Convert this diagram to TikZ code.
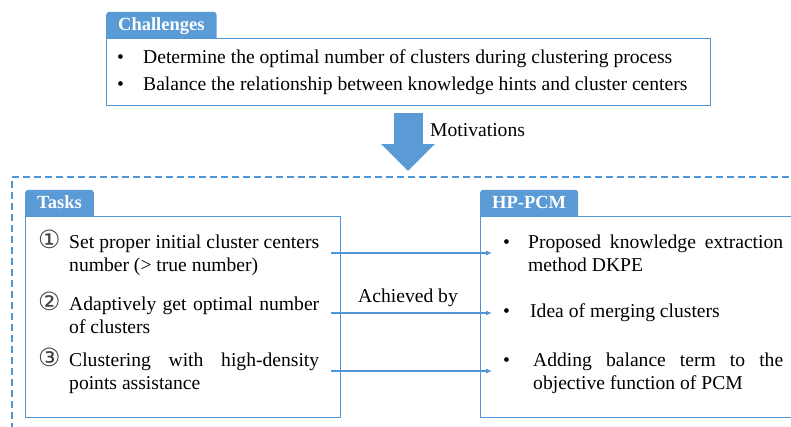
\documentclass[tikz,border=0pt]{standalone}
\usepackage{fontspec}
\setmainfont{Liberation Serif}
\newfontfamily\circfont{DejaVu Sans}
\usetikzlibrary{arrows.meta,positioning}
\definecolor{tabblue}{RGB}{91,155,213}
\definecolor{lineblue}{RGB}{80,150,212}

\newcommand{\numitem}[4]{\makebox[#1][l]{#2}\parbox[t]{#3}{#4}}
\newcommand{\circnum}[1]{{\circfont\fontsize{25}{23}\selectfont\color{black!75}#1}}

\begin{document}
\begin{tikzpicture}[
    x=1pt, y=-1pt,
    font=\fontsize{19.6}{23}\selectfont,
    tab/.style={fill=tabblue, text=white, rounded corners=3pt,
      font=\fontsize{18.5}{20}\selectfont\bfseries,
      anchor=south west, inner xsep=12pt, inner ysep=0pt,
      text height=14pt, text depth=5pt, minimum height=29pt},
    panel/.style={draw=lineblue, line width=1.4pt, fill=white,
      anchor=north west, inner sep=0pt},
    item/.style={anchor=west, inner sep=0pt},
    link/.style={draw=lineblue, line width=1.1pt, -{Latex[length=6pt,width=5pt]}},
    bigarrow/.style={draw=tabblue, line width=29pt, -{Triangle[length=27pt,width=52pt]}},
    frame/.style={draw=lineblue, line width=1.5pt, dash pattern=on 7pt off 4pt},
    >=latex
    ]
    \useasboundingbox (0,0) rectangle (791,426);
    \clip (0,0) rectangle (791,426);

    % Challenges
    \node[tab] (chaltab) at (106,41) {Challenges};
    \node[panel, minimum width=604pt, minimum height=67pt] (chal) at (106,38) {};
    \node[anchor=west, inner sep=0pt] (c1) at (117,59)
        {\makebox[26pt][l]{\textbullet}Determine the optimal number of clusters during clustering process};
    \node[anchor=west, inner sep=0pt] (c2) at (117,86)
        {\makebox[26pt][l]{\textbullet}Balance the relationship between knowledge hints and cluster centers};

    % Motivations
    \coordinate (m1) at (408,113);
    \coordinate (m2) at (408,171);
    \draw[bigarrow] (m1) -- (m2);
    \node[anchor=west, inner sep=0pt] (motiv) at (430,130) {Motivations};

    \draw[frame] (800,177) -| (12,440);

    % Tasks
    \node[tab] (tasktab) at (25,219) {Tasks};
    \node[panel, minimum width=315pt, minimum height=201pt] (tasks) at (25,216) {};
    \node[item] (t1) at (38,253)
        {\numitem{31pt}{\circnum{①}}{250pt}{Set proper initial cluster centers number (> true number)}};
    \node[item] (t2) at (38,313)
        {\numitem{31pt}{\circnum{②}}{250pt}{Adaptively get optimal number of clusters}};
    \node[item] (t3) at (38,371)
        {\numitem{31pt}{\circnum{③}}{250pt}{Clustering with high-density\linebreak points assistance}};

    % HP-PCM
    \node[tab] (hptab) at (480,219) {HP-PCM};
    \node[panel, minimum width=330pt, minimum height=201pt] (hp) at (480,216) {};
    \node[item] (h1) at (503,253)
        {\numitem{25pt}{\textbullet}{255pt}{Proposed knowledge extraction method DKPE}};
    \node[item] (h2) at (503,313)
        {\makebox[27pt][l]{\textbullet}Idea of merging clusters};
    \node[item] (h3) at (503,373)
        {\numitem{30pt}{\textbullet}{250pt}{Adding balance term to the\linebreak objective function of PCM}};

    % Achieved by
    \foreach \ai/\aii in {t1/h1,t2/h2,t3/h3}
        \draw[link, shorten <=12pt, shorten >=11pt] (\ai.east) -- (\ai.east -| \aii.west);
    \node[anchor=west, inner sep=0pt] (achv) at (358,298) {Achieved by};
\end{tikzpicture}
\end{document}
